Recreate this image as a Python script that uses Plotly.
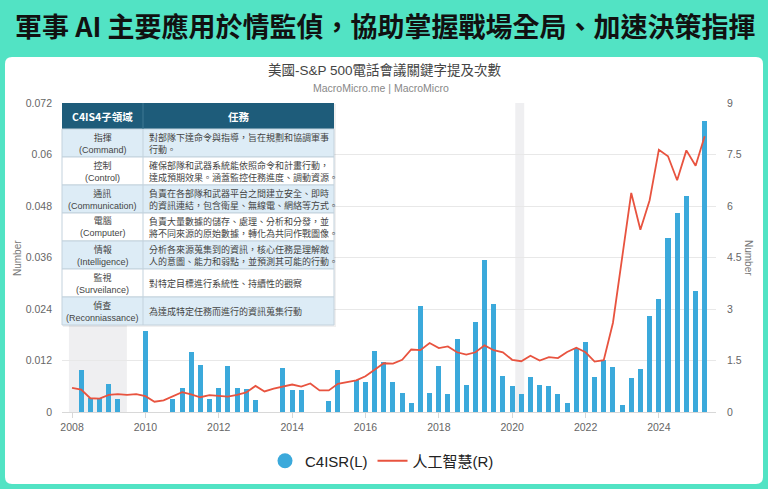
import pandas as pd
import plotly.graph_objects as go

# ---------------- data ----------------
quarter_dates = pd.date_range("2008-01-01", periods=70, freq="QS").strftime("%Y-%m-%d").tolist()

c4isr = [
    0, 0.0097, 0.0033, 0.0033,        # 2008
    0.0066, 0.0031, 0, 0,             # 2009
    0.0188, 0, 0, 0.0031,             # 2010
    0.0057, 0.0140, 0.0110, 0.0030,   # 2011
    0.0055, 0.0108, 0.0055, 0.0054,   # 2012
    0.0027, 0, 0, 0.0102,             # 2013
    0.0051, 0.0051, 0, 0,             # 2014
    0.0025, 0.0099, 0, 0.0074,        # 2015
    0.0071, 0.0141, 0.0117, 0.0071,   # 2016
    0.0045, 0.0021, 0.0246, 0.0045,   # 2017
    0.0108, 0.0043, 0.0171, 0.0064,   # 2018
    0.0210, 0.0355, 0.0252, 0.0083,   # 2019
    0.0061, 0.0041, 0.0082, 0.0064,   # 2020
    0.0061, 0.0041, 0.0021, 0.0149,   # 2021
    0.0164, 0.0081, 0.0122, 0.0104,   # 2022
    0.0017, 0.0079, 0.0101, 0.0224,   # 2023
    0.0263, 0.0405, 0.0464, 0.0504,   # 2024
    0.0282, 0.0677,                   # 2025
]

ai = [
    0.70, 0.65, 0.40, 0.39,   # 2008
    0.50, 0.52, 0.50, 0.52,   # 2009
    0.46, 0.30, 0.34, 0.46,   # 2010
    0.58, 0.51, 0.43, 0.49,   # 2011
    0.47, 0.45, 0.50, 0.57,   # 2012
    0.76, 0.60, 0.68, 0.74,   # 2013
    0.80, 0.74, 0.83, 0.63,   # 2014
    0.63, 0.82, 0.87, 0.92,   # 2015
    1.04, 1.24, 1.42, 1.41,   # 2016
    1.52, 1.82, 1.80, 2.01,   # 2017
    1.86, 1.91, 1.74, 1.67,   # 2018
    1.74, 1.94, 1.80, 1.74,   # 2019
    1.52, 1.48, 1.64, 1.50,   # 2020
    1.60, 1.57, 1.75, 1.87,   # 2021
    1.74, 1.47, 1.51, 2.60,   # 2022
    4.56, 6.38, 5.31, 6.17,   # 2023
    7.64, 7.45, 6.75, 7.62,   # 2024
    7.17, 8.03,               # 2025
]

left_tickvals = [0, 0.012, 0.024, 0.036, 0.048, 0.06, 0.072]
left_ticktext = ["0", "0.012", "0.024", "0.036", "0.048", "0.06", "0.072"]
right_tickvals = [0, 1.5, 3, 4.5, 6, 7.5, 9]
right_ticktext = ["0", "1.5", "3", "4.5", "6", "7.5", "9"]

recessions = [("2007-12-01", "2009-06-30"), ("2020-02-01", "2020-04-30")]

table_header = ["C4IS4子領域", "任務"]
table_domain = ["指揮<br>(Command)", "控制<br>(Control)", "通訊<br>(Communication)",
                "電腦<br>(Computer)", "情報<br>(Intelligence)", "監視<br>(Surveilance)",
                "偵查<br>(Reconniassance)"]
table_task = [
    "對部隊下達命令與指導，旨在規劃和協調軍事<br>行動。",
    "確保部隊和武器系統能依照命令和計畫行動，<br>達成預期效果。涵蓋監控任務進度、調動資源。",
    "負責在各部隊和武器平台之間建立安全、即時<br>的資訊連結，包含衛星、無線電、網絡等方式。",
    "負責大量數據的儲存、處理、分析和分發，並<br>將不同來源的原始數據，轉化為共同作戰圖像。",
    "分析各來源蒐集到的資訊，核心任務是理解敵<br>人的意圖、能力和弱點，並預測其可能的行動。",
    "對特定目標進行系統性、持續性的觀察",
    "為達成特定任務而進行的資訊蒐集行動",
]

# ---------------- styling / geometry ----------------
W, H = 768, 489
PL, PR, PT, PB = 62, 716, 103, 412   # plot area in pixels
TEAL = "#52E3C4"
BAR_C = "#3BA9DB"
LINE_C = "#E8533F"
CJK = "Noto Sans CJK TC"
MIX = "Liberation Sans, Noto Sans CJK TC"


def px(x):
    return (x - PL) / (PR - PL)


def py(y):
    return (PB - y) / (PB - PT)


fig = go.Figure()

fig.add_trace(go.Bar(
    x=quarter_dates, y=c4isr, name="C4ISR(L)", marker_color=BAR_C,
    marker_line_width=0, width=50 * 86400000, showlegend=False, yaxis="y",
))
fig.add_trace(go.Scatter(
    x=quarter_dates, y=ai, name="人工智慧(R)", mode="lines",
    line=dict(color=LINE_C, width=1.8), yaxis="y2", showlegend=False,
))
# legend entries
fig.add_trace(go.Scatter(
    x=[None], y=[None], name="C4ISR(L)", mode="markers",
    marker=dict(color=BAR_C, size=15, symbol="circle"), yaxis="y",
))
fig.add_trace(go.Scatter(
    x=[None], y=[None], name="人工智慧(R)", mode="lines",
    line=dict(color=LINE_C, width=2), yaxis="y2",
))

shapes = []
# white rounded panel
x0, x1, y0, y1 = px(5), px(763), py(484), py(57)
rx, ry = 7 / (PR - PL), 7 / (PB - PT)
path = (f"M {x0+rx},{y1} L {x1-rx},{y1} Q {x1},{y1} {x1},{y1-ry} L {x1},{y0+ry} "
        f"Q {x1},{y0} {x1-rx},{y0} L {x0+rx},{y0} Q {x0},{y0} {x0},{y0+ry} "
        f"L {x0},{y1-ry} Q {x0},{y1} {x0+rx},{y1} Z")
shapes.append(dict(type="path", path=path, xref="paper", yref="paper",
                   fillcolor="white", line=dict(width=0), layer="below"))
# recession shading
for a, b in recessions:
    shapes.append(dict(type="rect", xref="x", yref="paper", x0=a, x1=b, y0=0, y1=1,
                       fillcolor="#EFEFF1", line=dict(width=0), layer="below"))

# table
tl, tm, tr = 62, 143, 334
row_edges = [103, 129, 157, 185, 213, 241, 269, 297, 325]
# shadow
shapes.append(dict(type="rect", xref="paper", yref="paper", x0=px(tl + 1), x1=px(tr + 2),
                   y0=py(row_edges[-1] + 2), y1=py(row_edges[0] + 1),
                   fillcolor="rgba(0,0,0,0.06)", line=dict(width=0), layer="above"))
shapes.append(dict(type="rect", xref="paper", yref="paper", x0=px(tl), x1=px(tr),
                   y0=py(row_edges[1]), y1=py(row_edges[0]),
                   fillcolor="#1E5C7A", line=dict(width=0), layer="above"))
for i in range(7):
    fill = "#DDECF6" if i % 2 == 0 else "#FFFFFF"
    shapes.append(dict(type="rect", xref="paper", yref="paper", x0=px(tl), x1=px(tr),
                       y0=py(row_edges[i + 2]), y1=py(row_edges[i + 1]),
                       fillcolor=fill, line=dict(color="#C3D2DD", width=1), layer="above"))
shapes.append(dict(type="line", xref="paper", yref="paper", x0=px(tm), x1=px(tm),
                   y0=py(row_edges[-1]), y1=py(row_edges[1]),
                   line=dict(color="#C3D2DD", width=1), layer="above"))
shapes.append(dict(type="line", xref="paper", yref="paper", x0=px(tm), x1=px(tm),
                   y0=py(row_edges[1]), y1=py(row_edges[0]),
                   line=dict(color="#3E7893", width=1), layer="above"))

annotations = []
# big title
annotations.append(dict(text="<b>軍事 AI 主要應用於情監偵，協助掌握戰場全局、加速決策指揮</b>",
                        x=px(385), y=py(26), xref="paper", yref="paper", showarrow=False,
                        xanchor="center", yanchor="middle",
                        font=dict(family=CJK, size=27, color="#111111")))
annotations.append(dict(text="美國-S&P 500電話會議關鍵字提及次數", x=px(385), y=py(70),
                        xref="paper", yref="paper", showarrow=False, xanchor="center",
                        yanchor="middle", font=dict(family=MIX, size=13.5, color="#444444")))
annotations.append(dict(text="MacroMicro.me | MacroMicro", x=px(381), y=py(88),
                        xref="paper", yref="paper", showarrow=False, xanchor="center",
                        yanchor="middle", font=dict(family=MIX, size=10.5, color="#888888")))
annotations.append(dict(text="Number", x=px(17), y=py(258), xref="paper", yref="paper",
                        showarrow=False, textangle=-90, xanchor="center", yanchor="middle",
                        font=dict(family=MIX, size=10, color="#777777")))
annotations.append(dict(text="Number", x=px(749), y=py(258), xref="paper", yref="paper",
                        showarrow=False, textangle=90, xanchor="center", yanchor="middle",
                        font=dict(family=MIX, size=10, color="#777777")))
# table text
annotations.append(dict(text=f"<b>{table_header[0]}</b>", x=px((tl + tm) / 2),
                        y=py((row_edges[0] + row_edges[1]) / 2), xref="paper", yref="paper",
                        showarrow=False, xanchor="center", yanchor="middle",
                        font=dict(family=CJK, size=10.5, color="white")))
annotations.append(dict(text=f"<b>{table_header[1]}</b>", x=px((tm + tr) / 2),
                        y=py((row_edges[0] + row_edges[1]) / 2), xref="paper", yref="paper",
                        showarrow=False, xanchor="center", yanchor="middle",
                        font=dict(family=CJK, size=10.5, color="white")))
for i in range(7):
    yc = py((row_edges[i + 1] + row_edges[i + 2]) / 2)
    annotations.append(dict(text=table_domain[i], x=px((tl + tm) / 2), y=yc,
                            xref="paper", yref="paper", showarrow=False, xanchor="center",
                            yanchor="middle", align="center",
                            font=dict(family=MIX, size=9, color="#444444")))
    annotations.append(dict(text=table_task[i], x=px(147), y=yc, xref="paper", yref="paper",
                            showarrow=False, xanchor="left", yanchor="middle", align="left",
                            font=dict(family=CJK, size=9, color="#444444")))

fig.update_layout(
    width=W, height=H,
    margin=dict(l=PL, r=W - PR, t=PT, b=H - PB, pad=0),
    paper_bgcolor=TEAL, plot_bgcolor="rgba(0,0,0,0)",
    bargap=0,
    shapes=shapes, annotations=annotations,
    showlegend=True,
    legend=dict(orientation="h", x=px(382), xanchor="center", y=py(461), yanchor="middle",
                font=dict(family=MIX, size=15, color="#222222"), bgcolor="rgba(0,0,0,0)",
                itemwidth=30, traceorder="normal"),
    xaxis=dict(type="date", range=["2007-09-23", "2025-07-23"], tick0="2008-01-01",
               dtick="M24", tickformat="%Y", showgrid=False, showline=True,
               linecolor="#D8D8D8", linewidth=1, ticks="outside", ticklen=5,
               tickcolor="#D8D8D8", tickfont=dict(family=MIX, size=10.5, color="#666666"),
               zeroline=False),
    yaxis=dict(range=[0, 0.072], tickvals=left_tickvals, ticktext=left_ticktext,
               showgrid=True, gridcolor="#E8E8E8", gridwidth=1, zeroline=False,
               tickfont=dict(family=MIX, size=10.5, color="#666666"), ticks="",
               ticklabelstandoff=9),
    yaxis2=dict(range=[0, 9], tickvals=right_tickvals, ticktext=right_ticktext,
                overlaying="y", side="right", showgrid=False, zeroline=False,
                tickfont=dict(family=MIX, size=10.5, color="#666666"), ticks="",
                ticklabelstandoff=10),
)

fig.write_html("out.html")
